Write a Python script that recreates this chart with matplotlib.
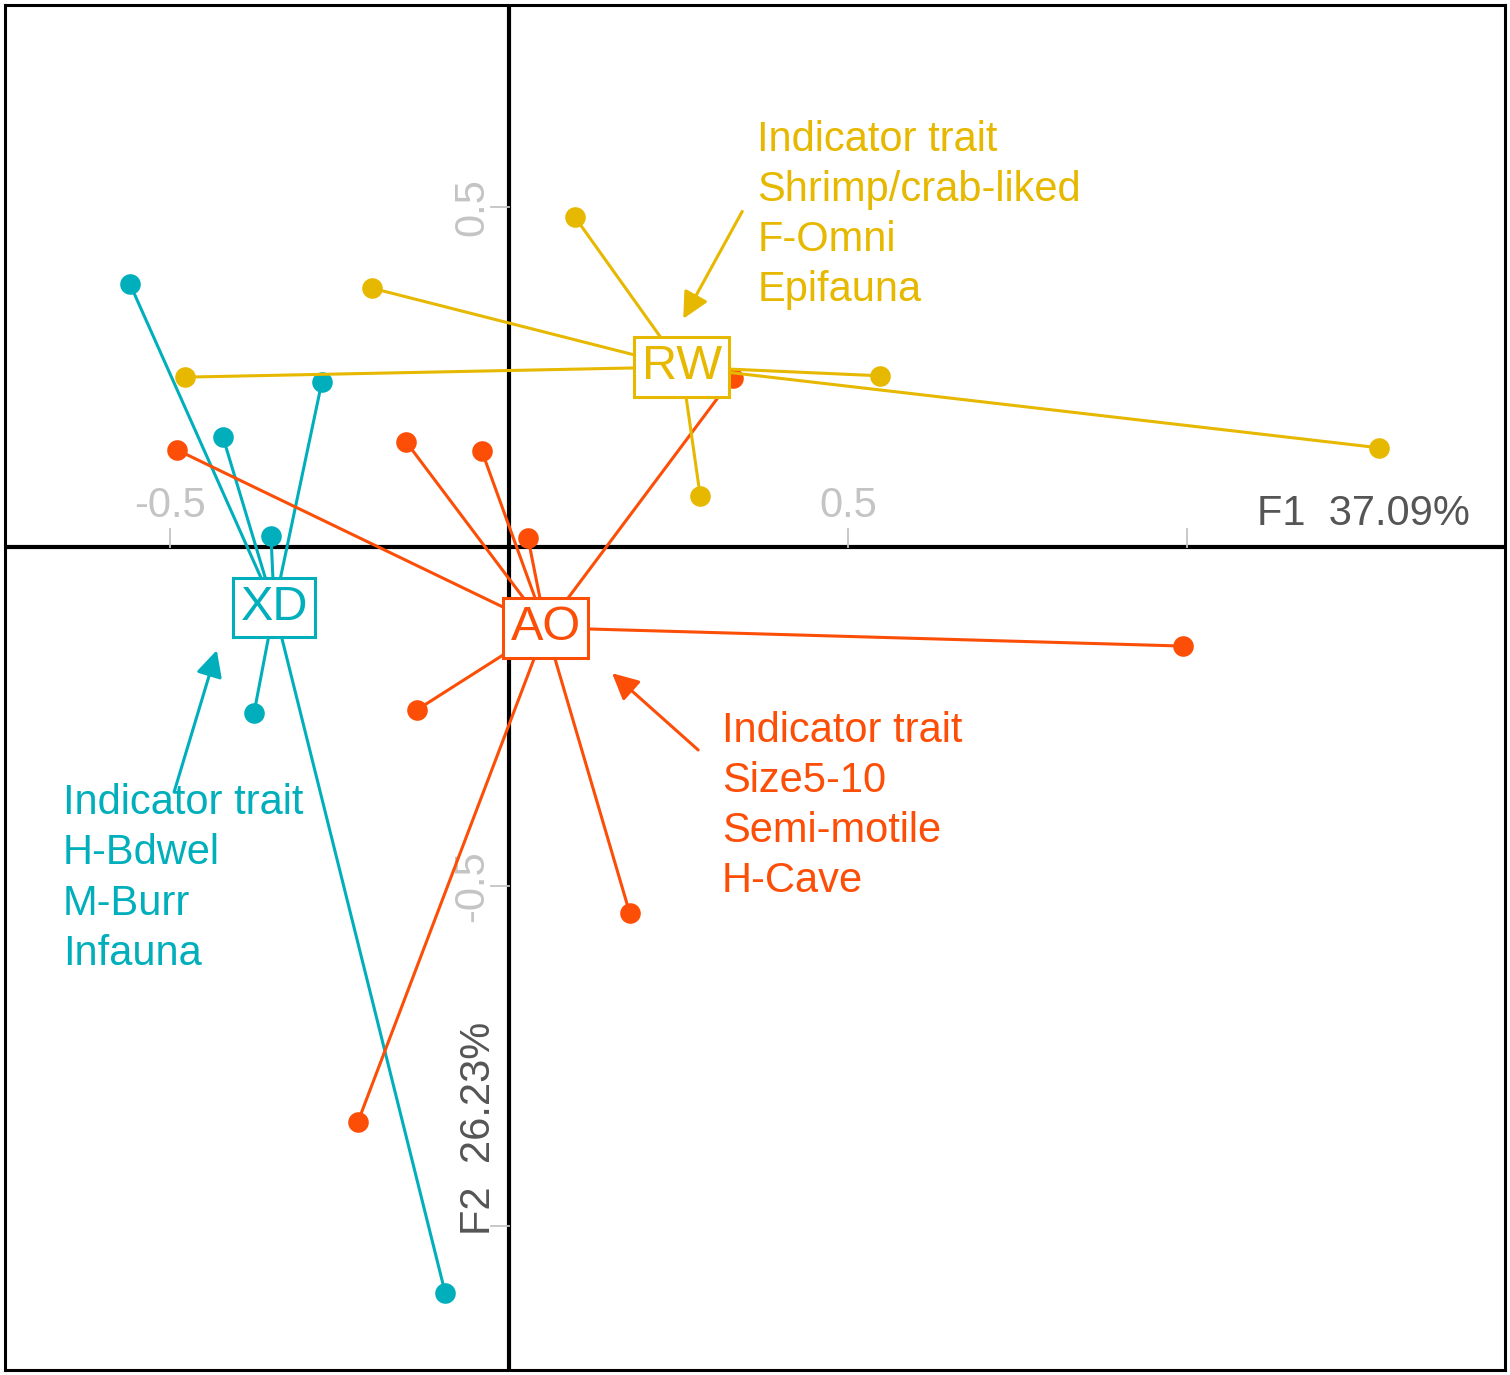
import matplotlib
matplotlib.use('Agg')
import matplotlib.pyplot as plt
import numpy as np

plt.rcParams['font.family'] = ['Liberation Sans', 'DejaVu Sans']

# groups: site name, colour, sample scores on F1/F2
colors = {'XD': '#00AFBB', 'AO': '#FC4E07', 'RW': '#E7B800'}

xd_x = [-0.559, -0.276, -0.422, -0.351, -0.376, -0.094]
xd_y = [0.387, 0.243, 0.162, 0.016, -0.244, -1.099]
ao_x = [-0.490, -0.152, -0.040, 0.330, 0.028, 0.994, -0.136, 0.178, -0.223]
ao_y = [0.143, 0.155, 0.141, 0.249, 0.013, -0.146, -0.240, -0.539, -0.847]
rw_x = [0.097, -0.202, -0.478, 0.547, 1.283, 0.282]
rw_y = [0.486, 0.381, 0.250, 0.252, 0.146, 0.075]
scores = {'XD': (xd_x, xd_y), 'AO': (ao_x, ao_y), 'RW': (rw_x, rw_y)}

# indicator traits per site
traits = {
    'RW': ['Indicator trait', 'Shrimp/crab-liked', 'F-Omni', 'Epifauna'],
    'XD': ['Indicator trait', 'H-Bdwel', 'M-Burr', 'Infauna'],
    'AO': ['Indicator trait', 'Size5-10', 'Semi-motile', 'H-Cave'],
}
# text top-left, arrow tail, arrow head (data units)
trait_pos = {'RW': (0.366, 0.629), 'XD': (-0.658, -0.348), 'AO': (0.314, -0.241)}
arrow_from = {'RW': (0.344, 0.494), 'XD': (-0.494, -0.361), 'AO': (0.279, -0.299)}
arrow_to = {'RW': (0.257, 0.336), 'XD': (-0.431, -0.152), 'AO': (0.152, -0.186)}

xticks = [-0.5, 0.5, 1.0]
xticklabels = ['-0.5', '0.5', '']
yticks = [0.5, -0.5, -1.0]
yticklabels = ['0.5', '-0.5', '']
xlab = 'F1  37.09%'
ylab = 'F2  26.23%'

fig = plt.figure(figsize=(15.1, 13.75), dpi=100)
ax = fig.add_axes([5/1510, 5/1375, 1500/1510, 1365/1375])
ax.set_xlim(-0.7434, 1.469)
ax.set_ylim(-1.212, 0.798)
ax.set_xticks([])
ax.set_yticks([])
for s in ax.spines.values():
    s.set_linewidth(2.2)

# axes through origin
ax.axhline(0, color='black', lw=3, zorder=1)
ax.axvline(0, color='black', lw=3, zorder=1)

tick_gray = '#c4c4c4'
for t, lab in zip(xticks, xticklabels):
    ax.plot([t, t], [0, 0.027], color=tick_gray, lw=1.3, zorder=1)
    ax.text(t, 0.044, lab, color=tick_gray, fontsize=30, ha='center', va='baseline')
for t, lab in zip(yticks, yticklabels):
    ax.plot([-0.027, 0], [t, t], color=tick_gray, lw=1.3, zorder=1)
    ax.text(-0.038, t, lab, color=tick_gray, fontsize=30, rotation=90,
            rotation_mode='anchor', ha='center', va='baseline')

ax.text(1.417, 0.032, xlab, color='#555555', fontsize=30, ha='right', va='baseline')
ax.text(-0.028, -1.013, ylab, color='#555555', fontsize=30, rotation=90,
        rotation_mode='anchor', ha='left', va='baseline')

# star plot: centroid -> samples
for i, g in enumerate(['XD', 'AO', 'RW']):
    gx, gy = np.array(scores[g][0]), np.array(scores[g][1])
    cx, cy = gx.mean(), gy.mean()
    c = colors[g]
    for px, py in zip(gx, gy):
        ax.plot([cx, px], [cy, py], color=c, lw=2.2, zorder=2 + i)
    ax.scatter(gx, gy, s=220, color=c, zorder=2 + i, linewidths=0)
    ax.text(cx, cy, g, color=c, fontsize=35, ha='center', va='center', zorder=6 + i,
            bbox=dict(boxstyle='square,pad=0.15', fc='white', ec=c, lw=2.2))

    tx, ty = trait_pos[g]
    ax.text(tx, ty, '\n'.join(traits[g]), color=c, fontsize=30, ha='left', va='top',
            linespacing=1.33, zorder=10)
    ax.annotate('', xy=arrow_to[g], xytext=arrow_from[g], zorder=10,
                arrowprops=dict(arrowstyle='-|>,head_length=0.8,head_width=0.4',
                                mutation_scale=20, color=c, lw=2.2, shrinkA=0, shrinkB=0))

fig.savefig('out.png', dpi=100)
